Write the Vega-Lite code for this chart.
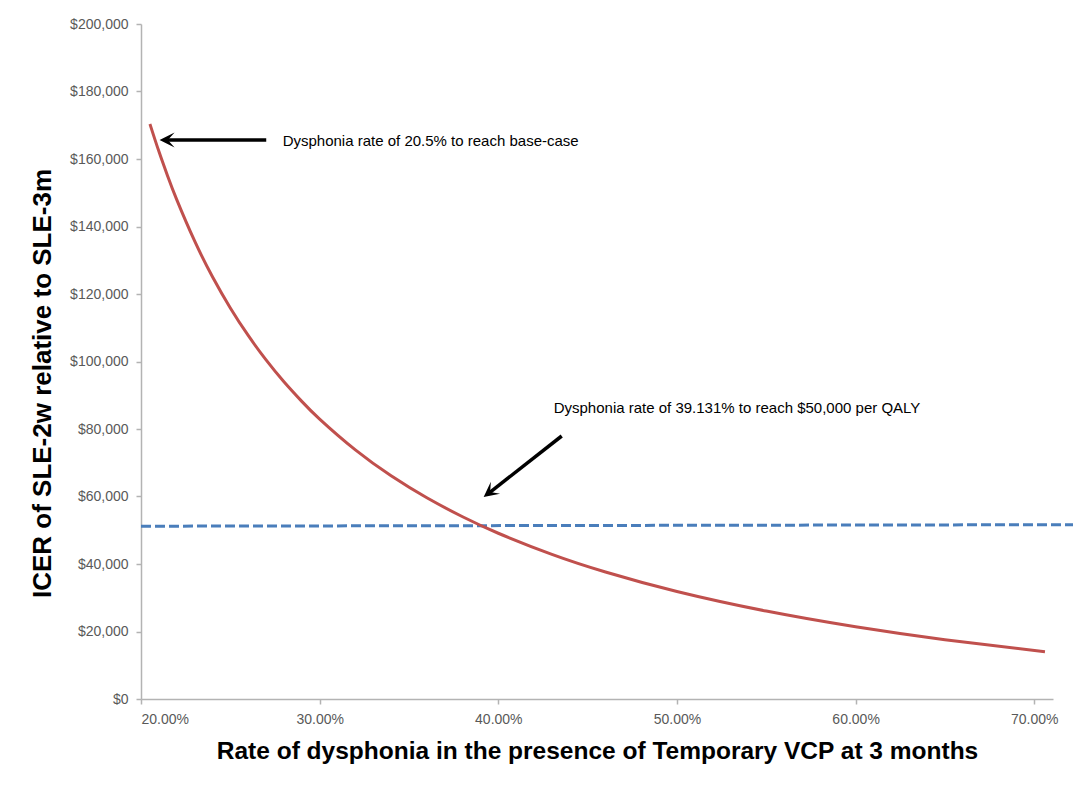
{
  "$schema": "https://vega.github.io/schema/vega-lite/v6.json",
  "width": 912,
  "height": 675,
  "autosize": {"type": "none"},
  "padding": {"left": 141, "top": 24, "right": 20, "bottom": 86},
  "background": "white",
  "config": {
    "view": {"stroke": null},
    "font": "Liberation Sans",
    "axis": {
      "grid": false,
      "domainColor": "#b3b3b3",
      "domainWidth": 1.5,
      "tickColor": "#b3b3b3",
      "tickWidth": 1.5,
      "tickSize": 5,
      "labelColor": "#595959",
      "labelFont": "Liberation Sans",
      "labelFontSize": 14,
      "titleColor": "#000000",
      "titleFont": "Liberation Sans",
      "titleFontWeight": "bold"
    }
  },
  "datasets": {
    "curve": [
      {"rate": 0.205, "icer": 170370},
      {"rate": 0.21, "icer": 162270},
      {"rate": 0.215, "icer": 154820},
      {"rate": 0.22, "icer": 147950},
      {"rate": 0.23, "icer": 135710},
      {"rate": 0.24, "icer": 125120},
      {"rate": 0.25, "icer": 115870},
      {"rate": 0.26, "icer": 107715},
      {"rate": 0.27, "icer": 100476},
      {"rate": 0.28, "icer": 94007},
      {"rate": 0.29, "icer": 88190},
      {"rate": 0.30, "icer": 82931},
      {"rate": 0.32, "icer": 73797},
      {"rate": 0.34, "icer": 66134},
      {"rate": 0.36, "icer": 59613},
      {"rate": 0.38, "icer": 53997},
      {"rate": 0.40, "icer": 49111},
      {"rate": 0.43, "icer": 42863},
      {"rate": 0.46, "icer": 37634},
      {"rate": 0.50, "icer": 31857},
      {"rate": 0.55, "icer": 26054},
      {"rate": 0.60, "icer": 21393},
      {"rate": 0.65, "icer": 17566},
      {"rate": 0.706, "icer": 14020}
    ],
    "ref": [
      {"rate": 0.2, "icer": 51200},
      {"rate": 0.722, "icer": 51650}
    ],
    "arrows": [
      {"id": "a1", "rate": 0.2701, "icer": 165630, "rate_end": 0.2149, "icer_end": 165630, "rate_tip": 0.2104, "icer_tip": 165630},
      {"id": "a2", "rate": 0.4355, "icer": 77926, "rate_end": 0.3953, "icer_end": 61245, "rate_tip": 0.3918, "icer_tip": 59852}
    ],
    "notes": [
      {"rate": 0.2793, "icer": 165300, "label": "Dysphonia rate of 20.5% to reach base-case"},
      {"rate": 0.431, "icer": 86220, "label": "Dysphonia rate of 39.131% to reach $50,000 per QALY"}
    ]
  },
  "layer": [
    {
      "data": {"name": "ref"},
      "mark": {"type": "line", "color": "#4a7ebb", "strokeWidth": 3, "strokeDash": [10, 4]},
      "encoding": {
        "x": {
          "field": "rate", "type": "quantitative",
          "scale": {"domain": [0.2, 0.7105], "nice": false, "zero": false},
          "axis": {"values": [0.2, 0.3, 0.4, 0.5, 0.6, 0.7], "format": ".2%", "labelPadding": 8, "titlePadding": 13, "titleFontSize": 24.5},
          "title": "Rate of dysphonia in the presence of Temporary VCP at 3 months"
        },
        "y": {
          "field": "icer", "type": "quantitative",
          "scale": {"domain": [0, 200000], "nice": false},
          "axis": {"values": [0, 20000, 40000, 60000, 80000, 100000, 120000, 140000, 160000, 180000, 200000], "format": "$,.0f", "labelPadding": 8, "titlePadding": 14, "titleFontSize": 26, "titleY": 359},
          "title": "ICER of SLE-2w relative to SLE-3m"
        }
      }
    },
    {
      "data": {"name": "curve"},
      "mark": {"type": "line", "color": "#c0504d", "strokeWidth": 3, "interpolate": "natural"},
      "encoding": {
        "x": {"field": "rate", "type": "quantitative", "title": "Rate of dysphonia in the presence of Temporary VCP at 3 months"},
        "y": {"field": "icer", "type": "quantitative", "title": "ICER of SLE-2w relative to SLE-3m"}
      }
    },
    {
      "data": {"name": "arrows"},
      "mark": {"type": "rule", "color": "#000000", "strokeWidth": 3.5},
      "encoding": {
        "x": {"field": "rate", "type": "quantitative", "title": "Rate of dysphonia in the presence of Temporary VCP at 3 months"},
        "y": {"field": "icer", "type": "quantitative", "title": "ICER of SLE-2w relative to SLE-3m"},
        "x2": {"field": "rate_end"},
        "y2": {"field": "icer_end"}
      }
    },
    {
      "data": {"name": "arrows"},
      "transform": [{"filter": "datum.id === 'a1'"}],
      "mark": {"type": "point", "filled": true, "color": "#000000", "opacity": 1, "size": 900, "angle": 270, "shape": "M0,0 L0.5,1 L0,0.55 L-0.5,1 Z"},
      "encoding": {
        "x": {"field": "rate_tip", "type": "quantitative", "title": "Rate of dysphonia in the presence of Temporary VCP at 3 months"},
        "y": {"field": "icer_tip", "type": "quantitative", "title": "ICER of SLE-2w relative to SLE-3m"}
      }
    },
    {
      "data": {"name": "arrows"},
      "transform": [{"filter": "datum.id === 'a2'"}],
      "mark": {"type": "point", "filled": true, "color": "#000000", "opacity": 1, "size": 900, "angle": 232, "shape": "M0,0 L0.5,1 L0,0.55 L-0.5,1 Z"},
      "encoding": {
        "x": {"field": "rate_tip", "type": "quantitative", "title": "Rate of dysphonia in the presence of Temporary VCP at 3 months"},
        "y": {"field": "icer_tip", "type": "quantitative", "title": "ICER of SLE-2w relative to SLE-3m"}
      }
    },
    {
      "data": {"name": "notes"},
      "mark": {"type": "text", "align": "left", "baseline": "middle", "font": "Liberation Sans", "fontSize": 15, "color": "#000000"},
      "encoding": {
        "x": {"field": "rate", "type": "quantitative", "title": "Rate of dysphonia in the presence of Temporary VCP at 3 months"},
        "y": {"field": "icer", "type": "quantitative", "title": "ICER of SLE-2w relative to SLE-3m"},
        "text": {"field": "label"}
      }
    }
  ]
}
